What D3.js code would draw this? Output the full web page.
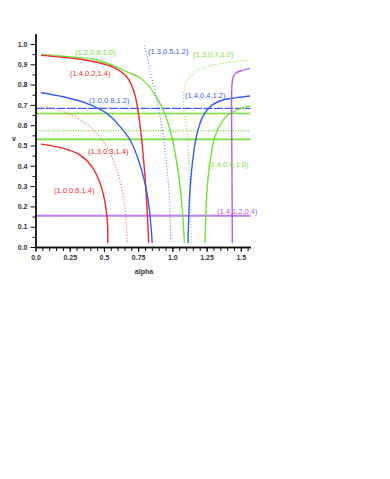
<!DOCTYPE html>
<html>
<head>
<meta charset="utf-8">
<script src="https://cdn.jsdelivr.net/npm/d3@7"></script>
<style>
  body { margin: 0; background: #fff; }
  svg text { font-family: 'Liberation Sans', Arial, sans-serif; }
</style>
</head>
<body>
<div id="chart"></div>
<script>
// curves, [alpha, v]
const curve_12_08_10 = [[0.04,0.949],[0.2,0.94],[0.45,0.921],[0.69,0.857],[0.76,0.835],[0.82,0.80],[0.874,0.748],[0.934,0.675],[0.996,0.543],[1.044,0.363],[1.073,0.182],[1.088,0.02]];
const curve_14_02_14 = [[0.04,0.944],[0.33,0.925],[0.45,0.91],[0.57,0.885],[0.665,0.84],[0.70,0.80],[0.73,0.74],[0.765,0.593],[0.80,0.346],[0.818,0.15],[0.827,0.02]];
const curve_10_08_12 = [[0.04,0.76],[0.204,0.74],[0.387,0.704],[0.521,0.658],[0.618,0.593],[0.691,0.527],[0.752,0.429],[0.80,0.314],[0.832,0.182],[0.853,0.02]];
const curve_13_03_14 = [[0.04,0.695],[0.204,0.667],[0.35,0.617],[0.448,0.56],[0.533,0.478],[0.594,0.379],[0.638,0.264],[0.662,0.133],[0.671,0.02]];
const curve_10_06_14 = [[0.04,0.507],[0.204,0.486],[0.326,0.453],[0.412,0.396],[0.472,0.314],[0.509,0.215],[0.526,0.117],[0.528,0.02]];
const curve_13_05_12 = [[0.796,0.995],[0.837,0.872],[0.886,0.724],[0.923,0.593],[0.954,0.429],[0.978,0.248],[0.988,0.02]];
const curve_13_07_10 = [[1.137,0.02],[1.13,0.25],[1.112,0.527],[1.09,0.65],[1.082,0.72],[1.088,0.775],[1.105,0.815],[1.129,0.839],[1.19,0.873],[1.30,0.897],[1.445,0.913],[1.565,0.921]];
const curve_14_04_12 = [[1.114,0.02],[1.126,0.248],[1.146,0.412],[1.175,0.543],[1.222,0.642],[1.283,0.695],[1.369,0.724],[1.47,0.736],[1.567,0.744]];
const curve_14_06_10 = [[1.239,0.02],[1.25,0.248],[1.274,0.412],[1.311,0.543],[1.372,0.626],[1.445,0.667],[1.567,0.695]];
const curve_14_12_04 = [[1.438,0.02],[1.436,0.3],[1.433,0.6],[1.433,0.75],[1.437,0.81],[1.446,0.84],[1.465,0.857],[1.50,0.868],[1.567,0.88]];

// horizontal levels
const level_values = [0.683, 0.658, 0.573, 0.530, 0.154];
const level_series = ['blue_dash', 'green', 'green_dot', 'green', 'purple'];

// labels: text, alpha, v
const label_texts = ['(1.2,0.8,1.0)','(1.4,0.2,1.4)','(1.0,0.8,1.2)','(1.3,0.3,1.4)','(1.0,0.6,1.4)','(1.3,0.5,1.2)','(1.3,0.7,1.0)','(1.4,0.4,1.2)','(1.4,0.6,1.0)','(1.4,1.2,0.4)'];
const label_alpha = [0.289, 0.252, 0.391, 0.384, 0.135, 0.822, 1.151, 1.092, 1.261, 1.326];
const label_v = [0.946, 0.842, 0.707, 0.456, 0.264, 0.953, 0.938, 0.734, 0.392, 0.165];

const x_ticks = [0, 0.25, 0.5, 0.75, 1.0, 1.25, 1.5];
const x_tick_labels = ['0.0','0.25','0.5','0.75','1.0','1.25','1.5'];
const y_ticks = [0,0.1,0.2,0.3,0.4,0.5,0.6,0.7,0.8,0.9,1.0];

function createChart(){
    const width = 390;
    const height = 479;
    const red = '#ee2a2a';
    const green = '#74e03a';
    const blue = '#3a5cee';
    const purple = '#b65ae8';

    const x = d3.scaleLinear().domain([0, Math.PI/2]).range([35.5, 250.5]);
    const y = d3.scaleLinear().domain([0, 1.05]).range([247, 33.85]);

    const svg = d3.select('#chart').append('svg')
                  .attr('width', width)
                  .attr('height', height);

    const series = [
        {data: curve_12_08_10, color: green, dash: null},
        {data: curve_14_02_14, color: red, dash: null},
        {data: curve_10_08_12, color: blue, dash: null},
        {data: curve_13_03_14, color: '#f05a5a', dash: '1,2'},
        {data: curve_10_06_14, color: red, dash: null},
        {data: curve_13_05_12, color: '#5a78f0', dash: '1,2'},
        {data: curve_13_07_10, color: green, dash: '1,2'},
        {data: curve_14_04_12, color: blue, dash: null},
        {data: curve_14_06_10, color: green, dash: null},
        {data: curve_14_12_04, color: purple, dash: null}
    ];
    const label_colors = [green, red, blue, red, red, blue, green, blue, green, purple];

    const level_style = {
        blue_dash: {color: blue, dash: '9,1.5', w: 1.2},
        green: {color: green, dash: null, w: 1.6},
        green_dot: {color: green, dash: '1,1.5', w: 1.2},
        purple: {color: '#c27af0', dash: null, w: 1.8}
    };

    // horizontal levels
    svg.selectAll('line.levels')
       .data(level_values)
       .enter()
       .append('line')
       .attr('x1', x(0))
       .attr('x2', x(Math.PI/2))
       .attr('y1', function(d){return y(d);})
       .attr('y2', function(d){return y(d);})
       .attr('stroke', function(d, i){return level_style[level_series[i]].color;})
       .attr('stroke-width', function(d, i){return level_style[level_series[i]].w;})
       .attr('stroke-dasharray', function(d, i){return level_style[level_series[i]].dash;});

    const line = d3.line()
                   .x(function(d){return x(d[0]);})
                   .y(function(d){return y(d[1]);})
                   .curve(d3.curveCatmullRom.alpha(0.5));

    svg.selectAll('path.curves')
       .data(series)
       .enter()
       .append('path')
       .attr('d', function(d){return line(d.data);})
       .attr('fill', 'none')
       .attr('stroke', function(d){return d.color;})
       .attr('stroke-width', function(d){return d.dash ? 1.1 : 1.4;})
       .attr('stroke-dasharray', function(d){return d.dash;});

    svg.selectAll('text.labels')
       .data(label_texts)
       .enter()
       .append('text')
       .text(function(d){return d;})
       .attr('x', function(d, i){return x(label_alpha[i]);})
       .attr('y', function(d, i){return y(label_v[i]);})
       .attr('fill', function(d, i){return label_colors[i];})
       .style('font-size', '7.5px');

    // axes
    const minor_x = d3.range(0, 1.5701, 0.05);
    const minor_y = d3.range(0.05, 1.0, 0.1);

    const x_axis = svg.append('g').attr('transform', 'translate(0,' + y(0) + ')');
    x_axis.call(d3.axisBottom(x).tickValues(minor_x).tickSize(4).tickSizeOuter(0).tickFormat(''));
    x_axis.append('g').call(d3.axisBottom(x).tickValues(x_ticks).tickSize(5).tickSizeOuter(0)
          .tickFormat(function(d, i){return x_tick_labels[i];}));

    const y_axis = svg.append('g').attr('transform', 'translate(' + x(0) + ',0)');
    y_axis.call(d3.axisLeft(y).tickValues(minor_y).tickSize(3).tickSizeOuter(0).tickFormat(''));
    y_axis.append('g').call(d3.axisLeft(y).tickValues(y_ticks).tickSize(5).tickSizeOuter(0)
          .tickFormat(d3.format('.1f')));

    svg.selectAll('.domain').attr('stroke', '#111').attr('stroke-width', 1.4);
    svg.selectAll('.tick line').attr('stroke', '#111').attr('stroke-width', 1);
    svg.selectAll('.tick text')
       .style('font-family', "'Liberation Sans', Arial, sans-serif")
       .style('font-size', '7px')
       .style('font-weight', 'bold')
       .attr('fill', '#333');

    svg.append('text')
       .text('alpha')
       .attr('x', (x(0) + x(Math.PI/2))/2 + 1)
       .attr('y', 274)
       .attr('text-anchor', 'middle')
       .style('font-size', '7px')
       .style('font-weight', 'bold')
       .attr('fill', '#333');

    svg.append('text')
       .text('v')
       .attr('x', 14)
       .attr('y', 141)
       .attr('text-anchor', 'middle')
       .style('font-size', '7px')
       .style('font-weight', 'bold')
       .attr('fill', '#333');
}

createChart();
</script>
</body>
</html>
